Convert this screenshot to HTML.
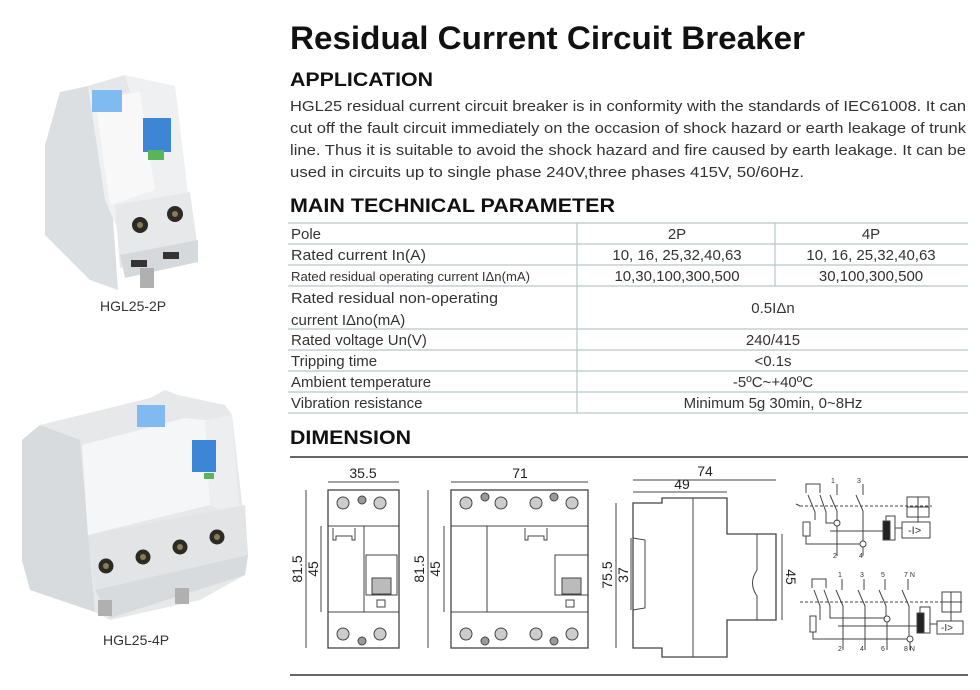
<!DOCTYPE html>
<html><head><meta charset="utf-8"><style>
html,body{margin:0;padding:0;background:#fff;}
svg{display:block;font-family:"Liberation Sans",sans-serif;}
</style></head><body>
<svg width="980" height="690" viewBox="0 0 980 690" xmlns="http://www.w3.org/2000/svg">
<rect width="980" height="690" fill="#fff"/>
<text x="290" y="49" font-size="32" font-weight="bold" textLength="515" lengthAdjust="spacingAndGlyphs" fill="#111">Residual Current Circuit Breaker</text>
<text x="290" y="86" font-size="19" font-weight="bold" textLength="143" lengthAdjust="spacingAndGlyphs" fill="#111">APPLICATION</text>
<g font-size="14.5" fill="#333">
<text x="290" y="111" textLength="676" lengthAdjust="spacingAndGlyphs">HGL25 residual current circuit breaker is in conformity with the standards of IEC61008. It can</text>
<text x="290" y="133" textLength="676" lengthAdjust="spacingAndGlyphs">cut off the fault circuit immediately on the occasion of shock hazard or earth leakage of trunk</text>
<text x="290" y="155" textLength="676" lengthAdjust="spacingAndGlyphs">line. Thus it is suitable to avoid the shock hazard and fire caused by earth leakage.  It can be</text>
<text x="290" y="177" textLength="514" lengthAdjust="spacingAndGlyphs">used in circuits up to single phase 240V,three phases 415V, 50/60Hz.</text>
</g>
<text x="290" y="212" font-size="19" font-weight="bold" textLength="325" lengthAdjust="spacingAndGlyphs" fill="#111">MAIN TECHNICAL PARAMETER</text>
<g stroke="#b8c6cc" stroke-width="1.2">
<line x1="288" y1="223" x2="968" y2="223"/>
<line x1="288" y1="244" x2="968" y2="244"/>
<line x1="288" y1="265" x2="968" y2="265"/>
<line x1="288" y1="286" x2="968" y2="286"/>
<line x1="288" y1="329" x2="968" y2="329"/>
<line x1="288" y1="350" x2="968" y2="350"/>
<line x1="288" y1="371" x2="968" y2="371"/>
<line x1="288" y1="392" x2="968" y2="392"/>
<line x1="288" y1="413" x2="968" y2="413"/>
<line x1="577" y1="223" x2="577" y2="413"/>
<line x1="775" y1="223" x2="775" y2="286"/>
</g>
<g font-size="15" fill="#333">
<text x="291" y="239">Pole</text>
<text x="291" y="260" textLength="135" lengthAdjust="spacingAndGlyphs">Rated current In(A)</text>
<text x="291" y="281" font-size="12.5" textLength="239" lengthAdjust="spacingAndGlyphs">Rated residual operating current IΔn(mA)</text>
<text x="291" y="303" textLength="207" lengthAdjust="spacingAndGlyphs">Rated residual non-operating</text>
<text x="291" y="325">current IΔno(mA)</text>
<text x="291" y="345">Rated voltage Un(V)</text>
<text x="291" y="366">Tripping time</text>
<text x="291" y="387">Ambient temperature</text>
<text x="291" y="408">Vibration resistance</text>
<g text-anchor="middle">
<text x="677" y="239">2P</text><text x="871" y="239">4P</text>
<text x="677" y="260">10, 16, 25,32,40,63</text><text x="871" y="260">10, 16, 25,32,40,63</text>
<text x="677" y="281">10,30,100,300,500</text><text x="871" y="281">30,100,300,500</text>
<text x="773" y="313">0.5IΔn</text>
<text x="773" y="345">240/415</text>
<text x="773" y="366">&lt;0.1s</text>
<text x="773" y="387">-5ºC~+40ºC</text>
<text x="773" y="408">Minimum 5g 30min, 0~8Hz</text>
</g></g>
<text x="290" y="444" font-size="19" font-weight="bold" textLength="121" lengthAdjust="spacingAndGlyphs" fill="#111">DIMENSION</text>
<line x1="290" y1="457" x2="968" y2="457" stroke="#666" stroke-width="2"/>
<line x1="290" y1="675" x2="968" y2="675" stroke="#666" stroke-width="2"/>

<g stroke="#444" stroke-width="1" fill="none">
<rect x="328" y="490" width="71" height="158" stroke-width="1.3"/>
<line x1="328" y1="526" x2="399" y2="526"/><line x1="328" y1="612" x2="399" y2="612"/>
<line x1="364" y1="526" x2="364" y2="612"/>
<path d="M333 528 L333 540 L336 540 L336 536 L352 536 L352 540 L355 540 L355 528"/>
<rect x="366" y="555" width="31" height="40"/><rect x="372" y="578" width="19" height="16" fill="#bbb"/>
<rect x="377" y="600" width="8" height="7"/>
<g fill="#ccc"><circle cx="343" cy="503" r="6"/><circle cx="380" cy="503" r="6"/><circle cx="343" cy="634" r="6"/><circle cx="380" cy="634" r="6"/></g>
<circle cx="362" cy="500" r="4" fill="#999"/><circle cx="362" cy="641" r="4" fill="#999"/>
<line x1="328" y1="482" x2="399" y2="482"/>
<line x1="306" y1="490" x2="306" y2="648"/><line x1="321" y1="526" x2="321" y2="612"/>
<rect x="451" y="490" width="137" height="158" stroke-width="1.3"/>
<line x1="451" y1="526" x2="588" y2="526"/><line x1="451" y1="612" x2="588" y2="612"/>
<line x1="487" y1="526" x2="487" y2="612"/>
<path d="M525 528 L525 540 L528 540 L528 536 L544 536 L544 540 L547 540 L547 528"/>
<rect x="555" y="555" width="33" height="40"/><rect x="562" y="578" width="19" height="16" fill="#bbb"/>
<rect x="566" y="600" width="8" height="7"/>
<g fill="#ccc"><circle cx="466" cy="503" r="6"/><circle cx="501" cy="503" r="6"/><circle cx="536" cy="503" r="6"/><circle cx="572" cy="503" r="6"/>
<circle cx="466" cy="634" r="6"/><circle cx="501" cy="634" r="6"/><circle cx="536" cy="634" r="6"/><circle cx="572" cy="634" r="6"/></g>
<g fill="#999"><circle cx="485" cy="497" r="4"/><circle cx="554" cy="497" r="4"/><circle cx="485" cy="641" r="4"/><circle cx="554" cy="641" r="4"/></g>
<line x1="451" y1="482" x2="588" y2="482"/>
<line x1="428" y1="490" x2="428" y2="648"/><line x1="444" y1="526" x2="444" y2="612"/>
<path d="M633 503 L662 503 L662 498 L727 498 L727 534 L776 534 L776 620 L727 620 L727 657 L662 657 L662 648 L633 648 Z" stroke-width="1.3"/>
<line x1="693" y1="498" x2="693" y2="657"/>
<path d="M633 538 L645 540 L645 608 L633 610"/>
<path d="M757 534 L757 570 Q748 583 757 596 L757 620"/>
<line x1="633" y1="480" x2="776" y2="480"/><line x1="633" y1="492" x2="727" y2="492"/>
<line x1="616" y1="503" x2="616" y2="648"/><line x1="631" y1="538" x2="631" y2="610"/>
<line x1="782" y1="534" x2="782" y2="620"/>
</g>
<g font-size="14" fill="#222" text-anchor="middle">
<text x="363" y="478">35.5</text><text x="520" y="478">71</text>
<text x="705" y="476">74</text><text x="682" y="489">49</text>
<text transform="translate(302,569) rotate(-90)">81.5</text>
<text transform="translate(318,569) rotate(-90)">45</text>
<text transform="translate(424,569) rotate(-90)">81.5</text>
<text transform="translate(440,569) rotate(-90)">45</text>
<text transform="translate(612,575) rotate(-90)">75.5</text>
<text transform="translate(628,575) rotate(-90)">37</text>
<text transform="translate(786,577) rotate(90)">45</text>
</g>
<g stroke="#444" stroke-width="1" fill="none">
<path d="M806 493 L806 484 L820 484 L820 493 M837 484 L837 495 M863 484 L863 495"/>
<path d="M808 495 L815 512 L815 520 M820 495 L826 512 L826 523 L834 523 M830 495 L837 511 L837 521 M856 495 L863 511 L863 541"/>
<line x1="800" y1="506" x2="932" y2="506" stroke-dasharray="3,2"/>
<line x1="796" y1="504" x2="800" y2="506"/>
<rect x="803" y="522" width="7" height="14"/>
<circle cx="837" cy="523" r="3"/><circle cx="863" cy="544" r="3"/>
<path d="M806 536 L806 544 L860 544 M837 526 L837 556 M863 547 L863 556"/>
<line x1="830" y1="531" x2="883" y2="531"/>
<rect x="883" y="521" width="7" height="19" fill="#222"/>
<path d="M886 521 L886 516 L895 516 L895 540 L886 540 M895 528 L902 528"/>
<rect x="907" y="497" width="22" height="20"/><line x1="918" y1="497" x2="918" y2="517"/><line x1="907" y1="507" x2="929" y2="507"/>
<line x1="918" y1="517" x2="918" y2="522"/>
<rect x="902" y="522" width="28" height="16"/>
<path d="M812 588 L812 579 L826 579 L826 588 M842 579 L842 590 M864 579 L864 590 M885 579 L885 590 M908 579 L908 590"/>
<path d="M814 590 L820 606 L820 620 M824 590 L830 606 L830 618 L885 618 M836 590 L843 606 L843 650 M858 590 L865 606 L865 650 M879 590 L886 606 L886 616 M902 590 L909 606 L909 636"/>
<line x1="800" y1="602" x2="962" y2="602" stroke-dasharray="3,2"/>
<rect x="810" y="616" width="6" height="16"/>
<circle cx="887" cy="619" r="3"/><circle cx="910" cy="639" r="3"/>
<path d="M813 632 L813 639 L907 639 M887 622 L887 650 M910 642 L910 650"/>
<line x1="838" y1="626" x2="917" y2="626"/>
<rect x="917" y="613" width="7" height="20" fill="#222"/>
<path d="M920 613 L920 607 L930 607 L930 633 L920 633 M930 624 L937 624"/>
<rect x="942" y="592" width="19" height="20"/><line x1="951" y1="592" x2="951" y2="612"/><line x1="942" y1="602" x2="961" y2="602"/>
<line x1="951" y1="612" x2="951" y2="621"/>
<rect x="937" y="621" width="26" height="13"/>
</g>
<g font-size="7" fill="#333"><text x="831" y="483">1</text><text x="857" y="483">3</text><text x="833" y="558">2</text><text x="859" y="558">4</text>
<text x="908" y="534" font-size="11">-I&gt;</text><text x="941" y="631" font-size="10">-I&gt;</text>
<text x="838" y="577">1</text><text x="860" y="577">3</text><text x="881" y="577">5</text><text x="904" y="577">7 N</text>
<text x="838" y="651">2</text><text x="860" y="651">4</text><text x="881" y="651">6</text><text x="904" y="651">8 N</text></g>

<g>
<polygon points="45,145 60,92 88,86 112,205 118,290 90,280 45,235" fill="#dcdfe2"/>
<polygon points="88,86 125,75 175,86 190,210 118,230 105,200" fill="#eef0f1"/>
<polygon points="95,100 140,92 155,190 110,205" fill="#f8f8f9"/>
<polygon points="88,86 125,75 130,92 94,100" fill="#e4e6e8"/>
<rect x="92" y="90" width="30" height="22" fill="#7fbaf0"/>
<rect x="143" y="118" width="28" height="34" fill="#3d86d6"/>
<rect x="148" y="150" width="16" height="10" fill="#5ab45a"/>
<polygon points="115,205 190,192 198,250 120,268" fill="#e6e8ea"/>
<circle cx="140" cy="225" r="8" fill="#2b2a25"/><circle cx="175" cy="214" r="8" fill="#2b2a25"/>
<circle cx="140" cy="225" r="3" fill="#8a7c50"/><circle cx="175" cy="214" r="3" fill="#8a7c50"/>
<polygon points="120,255 198,240 198,262 125,278" fill="#d6d9dc"/>
<rect x="131" y="260" width="16" height="7" fill="#333"/><rect x="163" y="252" width="16" height="7" fill="#333"/>
<rect x="140" y="268" width="14" height="20" fill="#b0b0b0"/>
</g>
<text x="100" y="311" font-size="14" fill="#333">HGL25-2P</text>
<g>
<polygon points="22,440 40,425 150,398 165,390 178,395 225,405 232,415 248,555 245,575 200,600 110,620 95,612 30,590 22,560" fill="#e6e8ea"/>
<polygon points="22,440 40,425 80,440 95,612 30,590 22,560" fill="#d8dbde"/>
<polygon points="82,445 185,418 205,420 210,505 88,535" fill="#f5f6f7"/>
<polygon points="205,420 232,415 240,520 210,505" fill="#eceeef"/>
<rect x="137" y="405" width="28" height="22" fill="#7fbaf0"/>
<rect x="192" y="440" width="24" height="32" fill="#3d86d6"/>
<rect x="204" y="473" width="10" height="6" fill="#5ab45a"/>
<polygon points="88,535 245,505 248,555 95,590" fill="#e2e4e6"/>
<g fill="#2b2a25"><circle cx="106" cy="566" r="7.5"/><circle cx="143" cy="557" r="7.5"/><circle cx="180" cy="547" r="7.5"/><circle cx="217" cy="537" r="7.5"/></g>
<g fill="#8a7c50"><circle cx="106" cy="566" r="3"/><circle cx="143" cy="557" r="3"/><circle cx="180" cy="547" r="3"/><circle cx="217" cy="537" r="3"/></g>
<polygon points="95,590 248,555 245,575 110,618" fill="#d8dbde"/>
<rect x="98" y="600" width="14" height="16" fill="#b0b0b0"/><rect x="175" y="588" width="14" height="16" fill="#b0b0b0"/>
</g>
<text x="103" y="645" font-size="14" fill="#333">HGL25-4P</text>
</svg>
</body></html>
